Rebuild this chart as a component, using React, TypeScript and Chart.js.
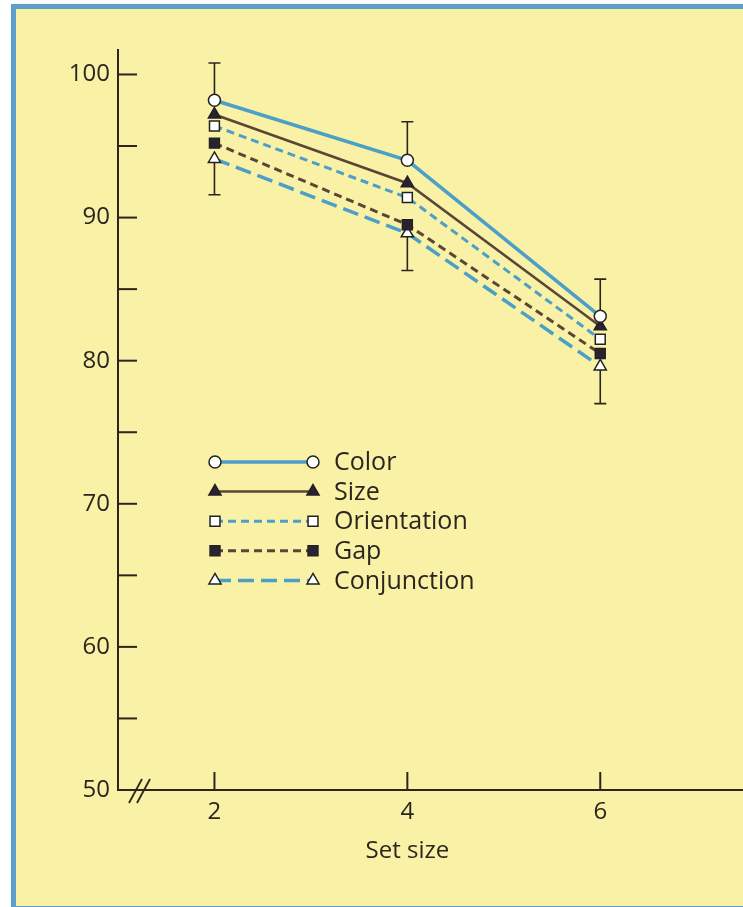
import React, { useEffect, useRef } from 'react';
import { Chart, registerables } from 'chart.js';

Chart.register(...registerables);

// ---------- data ----------
const SET_SIZES = [2, 4, 6];
const X_TICKS = [2, 4, 6];
const Y_TICKS = [50, 55, 60, 65, 70, 75, 80, 85, 90, 95, 100];
const SERIES_NAMES = ['Color', 'Size', 'Orientation', 'Gap', 'Conjunction'];
const COLOR = [98.2, 94.0, 83.1];
const SIZE = [97.2, 92.4, 82.4];
const ORIENTATION = [96.4, 91.4, 81.5];
const GAP = [95.2, 89.5, 80.5];
const CONJUNCTION = [94.1, 88.9, 79.6];
const ERR_HIGH = [100.8, 96.7, 85.7]; // upper bar above Color
const ERR_LOW = [91.6, 86.3, 77.0]; // lower bar below Conjunction
const X_TITLE = 'Set size';

// ---------- styles ----------
const W = 743;
const H = 907;
const INK = '#2b2520';
const BLUE = '#4c9fc7';
const BROWN = '#5a4636';
const MARK_DARK = '#2a2230';
const YELLOW = '#f8f1a6';
const FRAME = '#5d9fca';
const FONT = "'Open Sans', 'Noto Sans', sans-serif";

type Style = {
  color: string;
  width: number;
  dash: number[];
  point: 'circle' | 'triangle' | 'rect';
  radius: number;
  fill: string;
};

const STYLES: Style[] = [
  { color: BLUE, width: 3.5, dash: [], point: 'circle', radius: 6, fill: '#ffffff' },
  { color: BROWN, width: 2.5, dash: [], point: 'triangle', radius: 7, fill: MARK_DARK },
  { color: BLUE, width: 3, dash: [8, 5], point: 'rect', radius: 7, fill: '#ffffff' },
  { color: BROWN, width: 3, dash: [8, 5], point: 'rect', radius: 7, fill: MARK_DARK },
  { color: BLUE, width: 3.5, dash: [16, 7], point: 'triangle', radius: 7, fill: '#ffffff' },
];

const SERIES = [COLOR, SIZE, ORIENTATION, GAP, CONJUNCTION];

function drawMarker(ctx: CanvasRenderingContext2D, s: Style, x: number, y: number) {
  ctx.save();
  ctx.setLineDash([]);
  ctx.fillStyle = s.fill;
  ctx.strokeStyle = '#222222';
  ctx.lineWidth = 1.5;
  ctx.beginPath();
  const r = s.radius;
  if (s.point === 'circle') {
    ctx.arc(x, y, r, 0, Math.PI * 2);
  } else if (s.point === 'triangle') {
    let rad = 0;
    ctx.moveTo(x + Math.sin(rad) * r, y - Math.cos(rad) * r);
    rad += (Math.PI * 2) / 3;
    ctx.lineTo(x + Math.sin(rad) * r, y - Math.cos(rad) * r);
    rad += (Math.PI * 2) / 3;
    ctx.lineTo(x + Math.sin(rad) * r, y - Math.cos(rad) * r);
    ctx.closePath();
  } else {
    const size = Math.SQRT1_2 * r;
    ctx.rect(x - size, y - size, 2 * size, 2 * size);
  }
  ctx.fill();
  ctx.stroke();
  ctx.restore();
}

const decorPlugin = {
  id: 'decor',
  beforeDatasetsDraw(chart: any) {
    const { ctx, chartArea, scales } = chart;
    const { left, right, top, bottom } = chartArea;
    const x = scales.x;
    const y = scales.y;
    ctx.save();
    ctx.strokeStyle = INK;
    ctx.lineWidth = 2;
    ctx.setLineDash([]);
    // axes
    ctx.beginPath();
    ctx.moveTo(left, top);
    ctx.lineTo(left, bottom);
    ctx.lineTo(right + 20, bottom);
    ctx.stroke();
    // y tick marks (inside)
    Y_TICKS.forEach((v) => {
      if (v === Y_TICKS[0]) return;
      const py = y.getPixelForValue(v);
      ctx.beginPath();
      ctx.moveTo(left, py);
      ctx.lineTo(left + 19, py);
      ctx.stroke();
    });
    // x tick marks (inside)
    X_TICKS.forEach((v) => {
      const px = x.getPixelForValue(v);
      ctx.beginPath();
      ctx.moveTo(px, bottom);
      ctx.lineTo(px, bottom - 18);
      ctx.stroke();
    });
    // axis break "//"
    ctx.lineWidth = 1.8;
    [0, 8].forEach((d) => {
      ctx.beginPath();
      ctx.moveTo(left + 11 + d, bottom + 13);
      ctx.lineTo(left + 24 + d, bottom - 11);
      ctx.stroke();
    });
    // error bars
    ctx.lineWidth = 1.6;
    SET_SIZES.forEach((s, i) => {
      const px = x.getPixelForValue(s);
      const hi = y.getPixelForValue(ERR_HIGH[i]);
      const c = y.getPixelForValue(COLOR[i]);
      const lo = y.getPixelForValue(ERR_LOW[i]);
      const cj = y.getPixelForValue(CONJUNCTION[i]);
      ctx.beginPath();
      ctx.moveTo(px, c);
      ctx.lineTo(px, hi);
      ctx.moveTo(px - 6, hi);
      ctx.lineTo(px + 6, hi);
      ctx.moveTo(px, cj);
      ctx.lineTo(px, lo);
      ctx.moveTo(px - 6, lo);
      ctx.lineTo(px + 6, lo);
      ctx.stroke();
    });
    // x-axis title centred under the middle tick
    const mid = X_TICKS[Math.floor(X_TICKS.length / 2)];
    ctx.fillStyle = INK;
    ctx.font = `24px ${FONT}`;
    ctx.textAlign = 'center';
    ctx.textBaseline = 'middle';
    ctx.fillText(X_TITLE, x.getPixelForValue(mid), 851);
    ctx.restore();
  },
  afterDraw(chart: any) {
    const { ctx } = chart;
    ctx.save();
    const x0 = 215;
    const x1 = 313;
    const tx = 334;
    const y0 = 462;
    const dy = 29.6;
    SERIES_NAMES.forEach((name, i) => {
      const s = STYLES[i];
      const yy = y0 + i * dy;
      ctx.strokeStyle = s.color;
      ctx.lineWidth = s.width;
      ctx.setLineDash(s.dash);
      ctx.beginPath();
      ctx.moveTo(x0, yy);
      ctx.lineTo(x1, yy);
      ctx.stroke();
      drawMarker(ctx, s, x0, yy);
      drawMarker(ctx, s, x1, yy);
      ctx.setLineDash([]);
      ctx.fillStyle = INK;
      ctx.font = `25px ${FONT}`;
      ctx.textBaseline = 'middle';
      ctx.textAlign = 'left';
      ctx.fillText(name, tx, yy + 1);
    });
    ctx.restore();
  },
};

export default function App() {
  const ref = useRef<HTMLCanvasElement | null>(null);

  useEffect(() => {
    if (!ref.current) return;
    const datasets = SERIES_NAMES.map((name, i) => {
      const s = STYLES[i];
      return {
        label: name,
        data: SET_SIZES.map((sz, j) => ({ x: sz, y: SERIES[i][j] })),
        borderColor: s.color,
        borderWidth: s.width,
        borderDash: s.dash,
        backgroundColor: s.fill,
        pointStyle: s.point,
        pointRadius: s.radius,
        pointBackgroundColor: s.fill,
        pointBorderColor: '#222222',
        pointBorderWidth: 1.5,
        tension: 0,
        fill: false,
        clip: false as any,
      };
    });

    const chart = new Chart(ref.current, {
      type: 'line',
      data: { datasets },
      plugins: [decorPlugin],
      options: {
        animation: false,
        responsive: false,
        devicePixelRatio: 1,
        layout: { autoPadding: false, padding: { left: 0, top: 49, right: 0, bottom: 0 } },
        plugins: { legend: { display: false }, tooltip: { enabled: false } },
        scales: {
          x: {
            type: 'linear',
            min: 1,
            max: 7.48,
            grid: { display: false, drawTicks: false },
            border: { display: false },
            afterBuildTicks: (scale: any) => {
              scale.ticks = X_TICKS.map((v) => ({ value: v }));
            },
            afterFit: (scale: any) => {
              scale.height = H - 790;
              scale.paddingLeft = 0;
              scale.paddingRight = 0;
            },
            ticks: {
              padding: 8,
              color: INK,
              font: { family: FONT, size: 24 },
              callback: (v: any) => String(v),
            },
          },
          y: {
            type: 'linear',
            min: 50,
            max: 101.78,
            grid: { display: false, drawTicks: false },
            border: { display: false },
            afterBuildTicks: (scale: any) => {
              scale.ticks = Y_TICKS.map((v) => ({ value: v }));
            },
            afterFit: (scale: any) => {
              scale.width = 118;
            },
            ticks: {
              padding: 8,
              color: INK,
              font: { family: FONT, size: 24 },
              callback: (v: any) => (Number(v) % 10 === 0 ? String(v) : ''),
            },
          },
        },
      },
    });
    return () => chart.destroy();
  }, []);

  return (
    <div style={{ position: 'fixed', left: 0, top: 0, width: W, height: H, overflow: 'hidden', background: '#ffffff' }}>
      <div
        style={{
          position: 'absolute',
          left: 11,
          top: 4,
          width: W,
          height: H,
          background: YELLOW,
          borderLeft: `5px solid ${FRAME}`,
          borderTop: `5px solid ${FRAME}`,
          borderBottom: `5px solid ${FRAME}`,
          boxSizing: 'border-box',
        }}
      />
      <canvas ref={ref} width={W} height={H} style={{ position: 'absolute', left: 0, top: 0, width: W, height: H }} />
    </div>
  );
}
